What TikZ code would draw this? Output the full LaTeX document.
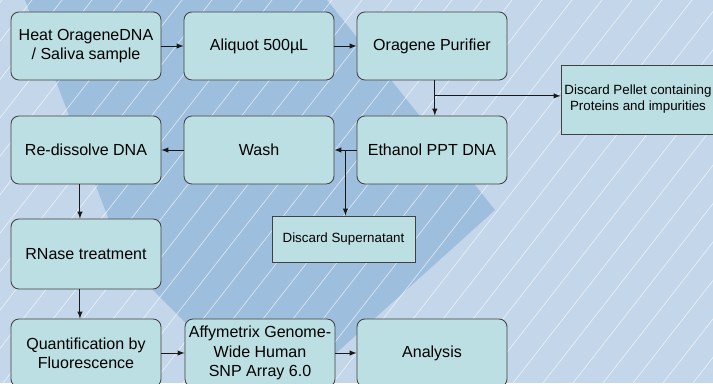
\documentclass[tikz,border=0pt]{standalone}
\usepackage{fontspec}
\setmainfont{Liberation Sans}
\usepackage{tikz}
\usetikzlibrary{calc,arrows}

\definecolor{bglight}{RGB}{196,214,234}
\definecolor{bgdark}{RGB}{158,190,222}
\definecolor{boxfill}{RGB}{188,223,227}
\definecolor{boxline}{RGB}{64,64,64}

\begin{document}
\begin{tikzpicture}[x=0.025cm,y=-0.025cm,
        stepnode/.style={draw=boxline,fill=boxfill,rounded corners=0.2cm,line width=0.6pt,
            minimum width=3.75cm,minimum height=1.7cm,inner sep=1pt,align=center,
            font=\fontsize{11.4}{13.8}\selectfont},
        discard/.style={draw=boxline,fill=boxfill,line width=0.6pt,inner sep=1pt,align=center,
            font=\fontsize{9.5}{11.4}\selectfont},
        flow/.style={->,>=latex,line width=0.7pt,draw=black!90}]
            \useasboundingbox (0,0) rectangle (713,383);
            \begin{scope}
                \clip (0,0) rectangle (713,383);
                \fill[bglight] (0,0) rectangle (713,383);
                \fill[bgdark] (25,0) -- (327,0) -- (495,210) -- (273,410) -- (125,262) -- cycle;
                \foreach \s in {-297,-267,...,723}
                    \draw[white,opacity=0.6,line width=0.5pt] (\s,383) -- ++(299,-383);
            \end{scope}

            \node[stepnode] (heat) at (86,46) {Heat OrageneDNA\\/ Saliva sample};
            \node[stepnode] (aliquot) at (259,46) {Aliquot 500µL};
            \node[stepnode] (purifier) at (432,46) {Oragene Purifier};
            \node[discard,minimum width=3.85cm,minimum height=1.725cm] (pellet) at (638,99.5) {Discard Pellet containing\\Proteins and impurities};
            \node[stepnode] (redissolve) at (86,150) {Re-dissolve DNA};
            \node[stepnode] (wash) at (259,150) {Wash};
            \node[stepnode] (ethanol) at (432,150) {Ethanol PPT DNA};
            \node[discard,minimum width=3.575cm,minimum height=1.15cm] (supernatant) at (343.5,239) {Discard Supernatant};
            \node[stepnode,minimum height=1.75cm] (rnase) at (86,254) {RNase treatment};
            \node[stepnode] (quant) at (86,353) {Quantification by\\Fluorescence};
            \node[stepnode] (affy) at (260,353) {Affymetrix Genome-\\Wide Human\\SNP Array 6.0};
            \node[stepnode] (analysis) at (432,353) {Analysis};

            \draw[flow] (heat) -- (aliquot);
            \draw[flow] (aliquot) -- (purifier);
            \draw[flow] ([xshift=2pt]purifier.south) -- ([xshift=2pt]ethanol.north);
            \coordinate (split1) at ($([xshift=2pt]purifier.south)!0.44!([xshift=2pt]ethanol.north)$);
            \draw[flow] (split1) -- (split1 -| pellet.west);
            \draw[flow] (ethanol) -- (wash);
            \coordinate (split2) at ($(ethanol.west)!0.5!(wash.east)$);
            \draw[flow] (split2) -- (split2 |- supernatant.north);
            \draw[flow] (wash) -- (redissolve);
            \draw[flow] ([xshift=-4.3pt]redissolve.south) -- ([xshift=-4.3pt]rnase.north);
            \draw[flow] ([xshift=-4.3pt]rnase.south) -- ([xshift=-4.3pt]quant.north);
            \draw[flow] (quant) -- (affy);
            \draw[flow] (affy) -- (analysis);
        \end{tikzpicture}
\end{document}
